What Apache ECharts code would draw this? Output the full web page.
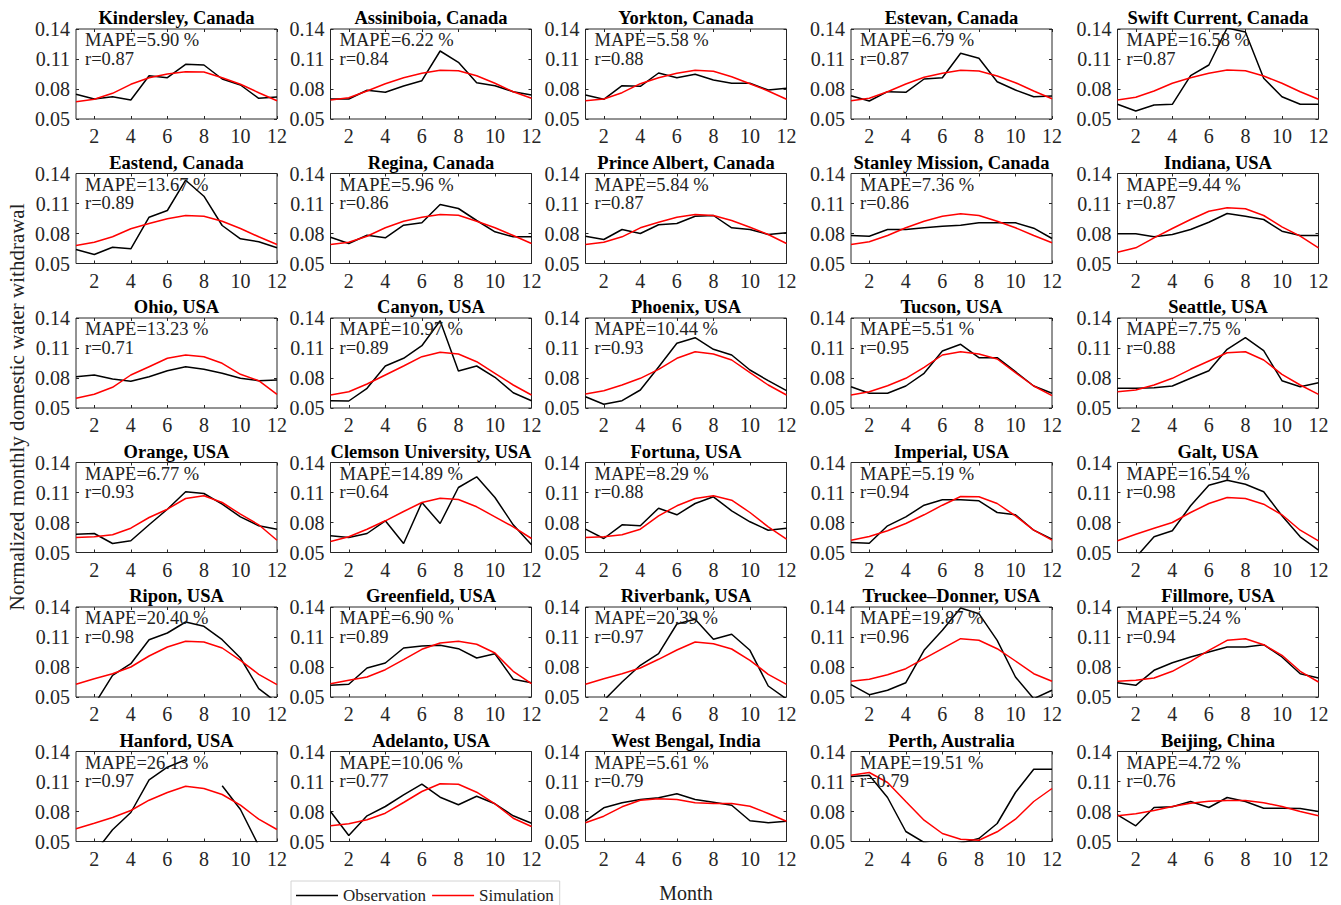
<!DOCTYPE html>
<html><head><meta charset="utf-8">
<script src="https://cdn.jsdelivr.net/npm/echarts@6/dist/echarts.min.js"></script>
<style>html,body{margin:0;padding:0;background:#fff}#chart{width:1341px;height:905px}</style>
</head><body><div id="chart"></div>
<script>
// ---------- data ----------
const months = [1,2,3,4,5,6,7,8,9,10,11,12];
const xTicks = [2,4,6,8,10,12];
const yTicks = [0.05,0.08,0.11,0.14];

const stations = ["Kindersley, Canada","Assiniboia, Canada","Yorkton, Canada","Estevan, Canada","Swift Current, Canada",
  "Eastend, Canada","Regina, Canada","Prince Albert, Canada","Stanley Mission, Canada","Indiana, USA",
  "Ohio, USA","Canyon, USA","Phoenix, USA","Tucson, USA","Seattle, USA",
  "Orange, USA","Clemson University, USA","Fortuna, USA","Imperial, USA","Galt, USA",
  "Ripon, USA","Greenfield, USA","Riverbank, USA","Truckee\u2013Donner, USA","Fillmore, USA",
  "Hanford, USA","Adelanto, USA","West Bengal, India","Perth, Australia","Beijing, China"];
const mapeText = ["5.90","6.22","5.58","6.79","16.58","13.67","5.96","5.84","7.36","9.44",
  "13.23","10.97","10.44","5.51","7.75","6.77","14.89","8.29","5.19","16.54",
  "20.40","6.90","20.39","19.87","5.24","26.13","10.06","5.61","19.51","4.72"];
const rText = ["0.87","0.84","0.88","0.87","0.87","0.89","0.86","0.87","0.86","0.87",
  "0.71","0.89","0.93","0.95","0.88","0.93","0.64","0.88","0.94","0.98",
  "0.98","0.89","0.97","0.96","0.94","0.97","0.77","0.79","0.79","0.76"];

const obsKindersley = [0.0747,0.0700,0.0723,0.0690,0.0933,0.0913,0.1047,0.1040,0.0900,0.0840,0.0707,0.0720];
const simKindersley = [0.0673,0.0697,0.0757,0.0847,0.0913,0.0950,0.0973,0.0970,0.0913,0.0847,0.0763,0.0683];
const obsAssiniboia = [0.0700,0.0700,0.0787,0.0767,0.0830,0.0883,0.1180,0.1067,0.0863,0.0833,0.0773,0.0740];
const simAssiniboia = [0.0690,0.0713,0.0780,0.0853,0.0913,0.0957,0.0987,0.0983,0.0933,0.0857,0.0773,0.0707];
const obsYorkton = [0.0740,0.0697,0.0833,0.0827,0.0960,0.0913,0.0947,0.0890,0.0857,0.0857,0.0790,0.0807];
const simYorkton = [0.0683,0.0700,0.0763,0.0853,0.0913,0.0957,0.0987,0.0977,0.0923,0.0853,0.0780,0.0697];
const obsEstevan = [0.0733,0.0680,0.0773,0.0767,0.0900,0.0913,0.1157,0.1107,0.0873,0.0790,0.0723,0.0730];
const simEstevan = [0.0683,0.0707,0.0773,0.0850,0.0917,0.0957,0.0987,0.0980,0.0930,0.0863,0.0780,0.0703];
const obsSwiftCurrent = [0.0647,0.0580,0.0640,0.0647,0.0933,0.1040,0.1410,0.1370,0.0907,0.0723,0.0647,0.0647];
const simSwiftCurrent = [0.0690,0.0717,0.0780,0.0857,0.0913,0.0957,0.0990,0.0983,0.0930,0.0857,0.0773,0.0697];
const obsEastend = [0.0640,0.0590,0.0663,0.0647,0.0963,0.1030,0.1333,0.1173,0.0880,0.0747,0.0717,0.0657];
const simEastend = [0.0680,0.0713,0.0767,0.0847,0.0900,0.0947,0.0980,0.0973,0.0923,0.0850,0.0767,0.0690];
const obsRegina = [0.0763,0.0700,0.0783,0.0757,0.0883,0.0907,0.1090,0.1050,0.0930,0.0817,0.0767,0.0767];
const simRegina = [0.0690,0.0713,0.0773,0.0857,0.0923,0.0963,0.0990,0.0983,0.0923,0.0857,0.0780,0.0700];
const obsPrinceAlbert = [0.0773,0.0740,0.0840,0.0800,0.0887,0.0900,0.0973,0.0980,0.0857,0.0840,0.0790,0.0807];
const simPrinceAlbert = [0.0690,0.0713,0.0767,0.0857,0.0913,0.0963,0.0990,0.0980,0.0930,0.0863,0.0790,0.0700];
const obsStanleyMission = [0.0780,0.0773,0.0840,0.0840,0.0857,0.0873,0.0883,0.0907,0.0907,0.0907,0.0853,0.0750];
const simStanleyMission = [0.0690,0.0717,0.0780,0.0857,0.0923,0.0973,0.0997,0.0980,0.0923,0.0857,0.0780,0.0707];
const obsIndiana = [0.0797,0.0797,0.0767,0.0790,0.0840,0.0913,0.1000,0.0973,0.0940,0.0823,0.0780,0.0780];
const simIndiana = [0.0613,0.0657,0.0757,0.0850,0.0940,0.1023,0.1057,0.1047,0.0980,0.0867,0.0773,0.0657];
const obsOhio = [0.0813,0.0830,0.0790,0.0767,0.0813,0.0873,0.0913,0.0887,0.0847,0.0797,0.0773,0.0780];
const simOhio = [0.0597,0.0637,0.0707,0.0830,0.0913,0.0997,0.1030,0.1013,0.0947,0.0837,0.0773,0.0637];
const obsCanyon = [0.0573,0.0570,0.0697,0.0920,0.0997,0.1123,0.1373,0.0870,0.0920,0.0807,0.0653,0.0573];
const simCanyon = [0.0630,0.0663,0.0740,0.0830,0.0920,0.1013,0.1057,0.1040,0.0963,0.0847,0.0730,0.0630];
const obsPhoenix = [0.0613,0.0537,0.0573,0.0680,0.0910,0.1147,0.1203,0.1087,0.1030,0.0880,0.0773,0.0673];
const simPhoenix = [0.0640,0.0673,0.0730,0.0797,0.0887,0.0997,0.1063,0.1040,0.0980,0.0853,0.0730,0.0630];
const obsTucson = [0.0713,0.0647,0.0647,0.0720,0.0847,0.1070,0.1137,0.1003,0.1003,0.0863,0.0720,0.0647];
const simTucson = [0.0630,0.0663,0.0723,0.0797,0.0907,0.1030,0.1063,0.1040,0.0990,0.0853,0.0720,0.0623];
const obsSeattle = [0.0697,0.0697,0.0703,0.0720,0.0797,0.0873,0.1087,0.1203,0.1073,0.0773,0.0713,0.0753];
const simSeattle = [0.0663,0.0680,0.0730,0.0797,0.0887,0.0970,0.1053,0.1063,0.0980,0.0837,0.0730,0.0637];
const obsOrange = [0.0683,0.0690,0.0590,0.0617,0.0777,0.0933,0.1107,0.1090,0.0983,0.0857,0.0767,0.0733];
const simOrange = [0.0650,0.0657,0.0677,0.0743,0.0850,0.0933,0.1040,0.1067,0.1000,0.0883,0.0777,0.0623];
const obsClemson = [0.0667,0.0650,0.0690,0.0817,0.0590,0.1000,0.0790,0.1150,0.1257,0.1050,0.0777,0.0577];
const simClemson = [0.0610,0.0657,0.0733,0.0817,0.0910,0.1000,0.1043,0.1030,0.0957,0.0857,0.0757,0.0640];
const obsFortuna = [0.0733,0.0640,0.0777,0.0767,0.0943,0.0877,0.0990,0.1057,0.0917,0.0807,0.0723,0.0743];
const simFortuna = [0.0650,0.0657,0.0677,0.0733,0.0867,0.0967,0.1040,0.1067,0.1023,0.0900,0.0757,0.0633];
const obsImperial = [0.0600,0.0593,0.0767,0.0857,0.0973,0.1027,0.1027,0.1017,0.0900,0.0877,0.0723,0.0633];
const simImperial = [0.0623,0.0660,0.0717,0.0790,0.0877,0.0973,0.1060,0.1057,0.0990,0.0867,0.0723,0.0623];
const obsGalt = [0.0440,0.0451,0.0657,0.0717,0.0967,0.1173,0.1223,0.1183,0.1107,0.0867,0.0657,0.0523];
const simGalt = [0.0617,0.0683,0.0743,0.0800,0.0900,0.0990,0.1050,0.1040,0.0983,0.0877,0.0723,0.0617];
const obsRipon = [0.0360,0.0423,0.0717,0.0833,0.1073,0.1140,0.1250,0.1207,0.1073,0.0890,0.0583,0.0445];
const simRipon = [0.0627,0.0683,0.0733,0.0800,0.0910,0.1000,0.1057,0.1050,0.0990,0.0867,0.0727,0.0623];
const obsGreenfield = [0.0617,0.0627,0.0790,0.0840,0.0990,0.1010,0.1017,0.0983,0.0890,0.0933,0.0677,0.0643];
const simGreenfield = [0.0633,0.0667,0.0700,0.0773,0.0873,0.0977,0.1040,0.1057,0.1027,0.0940,0.0757,0.0633];
const obsRiverbank = [0.0430,0.0465,0.0650,0.0817,0.0933,0.1230,0.1277,0.1077,0.1127,0.0967,0.0610,0.0480];
const simRiverbank = [0.0627,0.0683,0.0733,0.0790,0.0877,0.0970,0.1050,0.1033,0.0980,0.0867,0.0727,0.0627];
const obsTruckee = [0.0623,0.0523,0.0567,0.0643,0.0967,0.1167,0.1390,0.1333,0.1067,0.0700,0.0483,0.0567];
const simTruckee = [0.0657,0.0677,0.0723,0.0783,0.0883,0.0983,0.1083,0.1067,0.0983,0.0860,0.0733,0.0657];
const obsFillmore = [0.0643,0.0617,0.0767,0.0843,0.0900,0.0950,0.1000,0.1000,0.1023,0.0900,0.0733,0.0690];
const simFillmore = [0.0657,0.0667,0.0690,0.0757,0.0857,0.0967,0.1067,0.1083,0.1023,0.0917,0.0757,0.0650];
const obsHanford = [0.0330,0.0383,0.0617,0.0790,0.1117,0.1243,0.1317,null,0.1057,0.0820,0.0457,0.0380];
const simHanford = [0.0627,0.0683,0.0740,0.0810,0.0913,0.0990,0.1053,0.1030,0.0970,0.0863,0.0723,0.0620];
const obsAdelanto = [0.0800,0.0560,0.0757,0.0850,0.0967,0.1073,0.0943,0.0867,0.0953,0.0877,0.0757,0.0683];
const simAdelanto = [0.0657,0.0677,0.0717,0.0783,0.0890,0.1000,0.1077,0.1073,0.0993,0.0877,0.0733,0.0650];
const obsWestBengal = [0.0707,0.0837,0.0887,0.0920,0.0937,0.0977,0.0920,0.0893,0.0863,0.0707,0.0687,0.0703];
const simWestBengal = [0.0687,0.0753,0.0847,0.0913,0.0927,0.0920,0.0887,0.0880,0.0880,0.0853,0.0780,0.0703];
const obsPerth = [0.1150,0.1163,0.0940,0.0600,0.0490,0.0450,0.0485,0.0530,0.0680,0.0990,0.1223,0.1223];
const simPerth = [0.1163,0.1190,0.1090,0.0900,0.0713,0.0580,0.0523,0.0513,0.0597,0.0723,0.0900,0.1030];
const obsBeijing = [0.0767,0.0657,0.0840,0.0847,0.0900,0.0840,0.0940,0.0900,0.0833,0.0833,0.0830,0.0800];
const simBeijing = [0.0757,0.0777,0.0810,0.0850,0.0883,0.0903,0.0910,0.0910,0.0887,0.0850,0.0800,0.0757];

const observations = [obsKindersley,obsAssiniboia,obsYorkton,obsEstevan,obsSwiftCurrent,
  obsEastend,obsRegina,obsPrinceAlbert,obsStanleyMission,obsIndiana,
  obsOhio,obsCanyon,obsPhoenix,obsTucson,obsSeattle,
  obsOrange,obsClemson,obsFortuna,obsImperial,obsGalt,
  obsRipon,obsGreenfield,obsRiverbank,obsTruckee,obsFillmore,
  obsHanford,obsAdelanto,obsWestBengal,obsPerth,obsBeijing];
const simulations = [simKindersley,simAssiniboia,simYorkton,simEstevan,simSwiftCurrent,
  simEastend,simRegina,simPrinceAlbert,simStanleyMission,simIndiana,
  simOhio,simCanyon,simPhoenix,simTucson,simSeattle,
  simOrange,simClemson,simFortuna,simImperial,simGalt,
  simRipon,simGreenfield,simRiverbank,simTruckee,simFillmore,
  simHanford,simAdelanto,simWestBengal,simPerth,simBeijing];

// ---------- layout / style ----------
const FONT = "'Liberation Serif','Times New Roman',serif";
const colLeft = [76, 330.5, 585.5, 851, 1117.5];
const boxW = 201, boxH = 90, rowTop0 = 29, rowStep = 144.5;
const AX = '#262626';

const grids = [], xAxes = [], yAxes = [], series = [], graphics = [];
const tick = () => ({show:true, inside:true, length:3, lineStyle:{color:AX, width:1}});

stations.forEach((name, i) => {
  const r = Math.floor(i / 5), c = i % 5;
  const left = colLeft[c], top = rowTop0 + r * rowStep;
  grids.push({left:left, top:top, width:boxW, height:boxH, show:true, borderColor:AX, borderWidth:1, containLabel:false});
  xAxes.push({type:'value', gridIndex:i, min:1, max:12, position:'bottom',
    axisLine:{show:false}, splitLine:{show:false},
    axisTick:Object.assign(tick(), {customValues:xTicks}),
    axisLabel:{customValues:xTicks, fontSize:20, fontFamily:FONT, color:AX, margin:7}});
  xAxes.push({type:'value', gridIndex:i, min:1, max:12, position:'top',
    axisLine:{show:false}, splitLine:{show:false},
    axisTick:Object.assign(tick(), {customValues:xTicks}), axisLabel:{show:false}});
  yAxes.push({type:'value', gridIndex:i, min:0.05, max:0.14, position:'left',
    axisLine:{show:false}, splitLine:{show:false},
    axisTick:Object.assign(tick(), {customValues:yTicks}),
    axisLabel:{customValues:yTicks, fontSize:20, fontFamily:FONT, color:AX, margin:6,
      formatter:(v)=>Number(v).toFixed(2)}});
  yAxes.push({type:'value', gridIndex:i, min:0.05, max:0.14, position:'right',
    axisLine:{show:false}, splitLine:{show:false},
    axisTick:Object.assign(tick(), {customValues:yTicks}), axisLabel:{show:false}});
  const toPts = (arr) => months.map((m, k) => [m, arr[k] == null ? '-' : arr[k]]);
  series.push({type:'line', name:'Observation', xAxisIndex:2*i, yAxisIndex:2*i,
    data:toPts(observations[i]), symbol:'none', showSymbol:false, clip:true, connectNulls:false,
    lineStyle:{color:'#000000', width:1.5}, itemStyle:{color:'#000000'}, silent:true, z:2});
  series.push({type:'line', name:'Simulation', xAxisIndex:2*i, yAxisIndex:2*i,
    data:toPts(simulations[i]), symbol:'none', showSymbol:false, clip:true,
    lineStyle:{color:'#ff0000', width:1.5}, itemStyle:{color:'#ff0000'}, silent:true, z:3});
  graphics.push({type:'text', x:left + boxW/2, y:top - 11, silent:true,
    style:{text:name, font:'bold 18.5px ' + FONT, fill:'#000', align:'center', verticalAlign:'middle',
      textAlign:'center', textVerticalAlign:'middle'}});
  graphics.push({type:'text', x:left + 9, y:top + 11, silent:true, z:10,
    style:{text:'MAPE=' + mapeText[i] + ' %', font:'18.5px ' + FONT, fill:'#222', align:'left', verticalAlign:'middle',
      textAlign:'left', textVerticalAlign:'middle'}});
  graphics.push({type:'text', x:left + 9, y:top + 29.5, silent:true, z:10,
    style:{text:'r=' + rText[i], font:'18.5px ' + FONT, fill:'#222', align:'left', verticalAlign:'middle',
      textAlign:'left', textVerticalAlign:'middle'}});
});

graphics.push({type:'text', x:17, y:407, rotation:Math.PI/2, silent:true,
  style:{text:'Normalized monthly domestic water withdrawal', font:'21px ' + FONT, fill:'#222',
    align:'center', verticalAlign:'middle', textAlign:'center', textVerticalAlign:'middle'}});
graphics.push({type:'text', x:686, y:893, silent:true,
  style:{text:'Month', font:'20px ' + FONT, fill:'#222',
    align:'center', verticalAlign:'middle', textAlign:'center', textVerticalAlign:'middle'}});

const chart = echarts.init(document.getElementById('chart'), null, {renderer:'svg'});
chart.setOption({
  backgroundColor:'#ffffff',
  animation:false,
  legend:{data:[{name:'Observation', icon:'rect'},{name:'Simulation', icon:'rect'}],
    left:291, top:881, orient:'horizontal',
    itemWidth:42, itemHeight:1.6, itemGap:6, padding:[6,6,6,5],
    borderColor:'#d4d4d4', borderWidth:1, selectedMode:false,
    textStyle:{fontSize:17, fontFamily:FONT, color:'#222', lineHeight:17}},
  grid:grids, xAxis:xAxes, yAxis:yAxes, series:series, graphic:graphics
});
</script></body></html>
